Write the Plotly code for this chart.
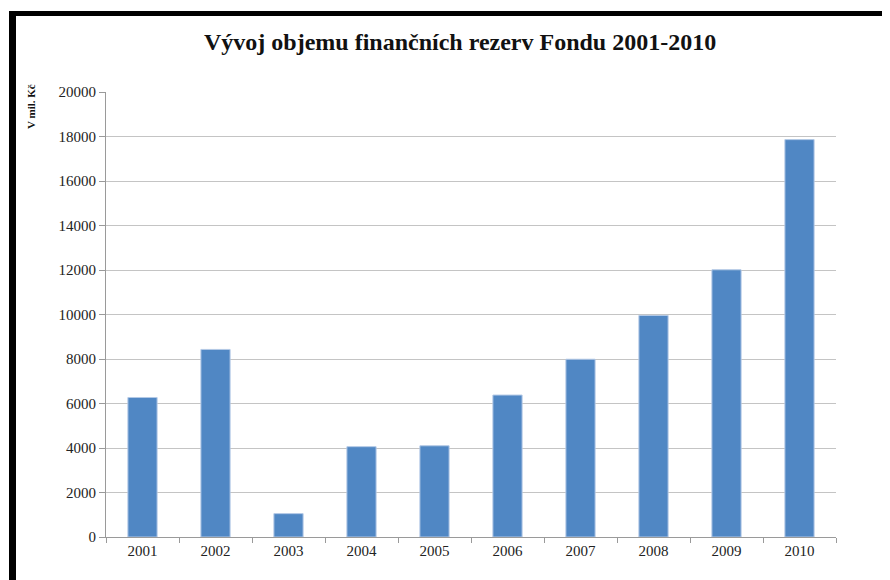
import plotly.graph_objects as go

# Data
roky = ['2001', '2002', '2003', '2004', '2005', '2006', '2007', '2008', '2009', '2010']
rezervy = [6270, 8430, 1050, 4060, 4100, 6380, 7990, 9960, 12010, 17860]

serif = 'Liberation Serif, Times New Roman, serif'
osa_barva = '#9a9a9a'

fig = go.Figure()
fig.add_trace(go.Bar(x=roky, y=rezervy, marker=dict(color='#5087C4', line=dict(color='#B4C9E6', width=1)),
                     showlegend=False))

fig.update_xaxes(type='category', tickson='boundaries', ticks='outside', ticklen=5, tickcolor=osa_barva,
                 showline=True, linecolor=osa_barva, linewidth=1, showgrid=False,
                 tickfont=dict(family=serif, size=15, color='#222'))
fig.update_yaxes(range=[0, 20000], dtick=2000, tickformat='d', ticks='outside', ticklen=6, tickcolor=osa_barva,
                 showline=True, linecolor=osa_barva, linewidth=1, showgrid=True, gridcolor='#c4c4c4',
                 zeroline=False, tickfont=dict(family=serif, size=15, color='#222'))

# Titulek a popisek osy (pozice v pixelech stranky prepoctene na paper)
fig.add_annotation(text='<b>Vývoj objemu finančních rezerv Fondu 2001-2010</b>', xref='paper', yref='paper',
                   x=(459.5 - 106) / 730, y=(537 - 42) / 445, showarrow=False, xanchor='center', yanchor='middle',
                   font=dict(family=serif, size=24, color='#111'))
fig.add_annotation(text='<b>V mil. Kč</b>', xref='paper', yref='paper', textangle=-90,
                   x=(31 - 106) / 730, y=(537 - 107) / 445, showarrow=False, xanchor='center', yanchor='middle',
                   font=dict(family=serif, size=11, color='#111'))

# Cerny ramecek nahore a vlevo
fig.add_shape(type='rect', xref='paper', yref='paper', x0=(9 - 106) / 730, x1=1.2,
              y0=(537 - 16) / 445, y1=(537 - 11) / 445, fillcolor='black', line_width=0)
fig.add_shape(type='rect', xref='paper', yref='paper', x0=(9 - 106) / 730, x1=(16 - 106) / 730,
              y0=-0.2, y1=(537 - 11) / 445, fillcolor='black', line_width=0)

# stranka ma okraj 8 px, proto jsou okraje o 8 px mensi
fig.update_layout(width=890, height=580, paper_bgcolor='white', plot_bgcolor='white', bargap=0.6,
                  margin=dict(l=98, r=62, t=84, b=51))
fig.write_html('out.html')
